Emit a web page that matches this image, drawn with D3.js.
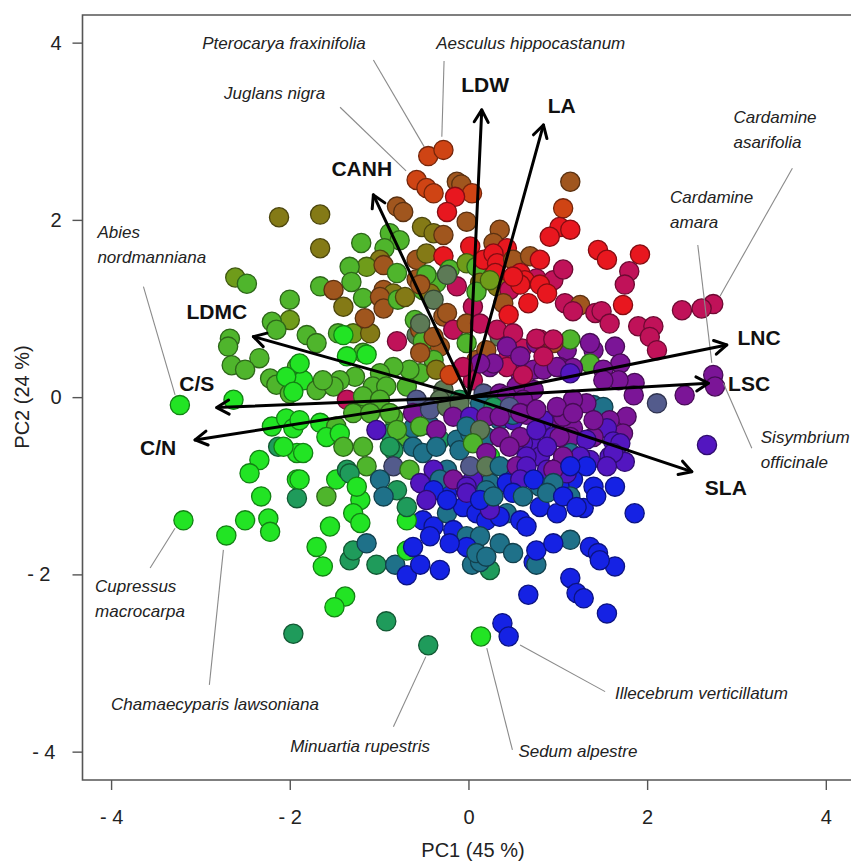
<!DOCTYPE html>
<html>
<head>
<meta charset="utf-8">
<script src="https://cdn.jsdelivr.net/npm/d3@7"></script>
<style>
  html, body { margin: 0; padding: 0; background: #fff; }
  svg { display: block; font-family: "Liberation Sans", Arial, sans-serif; }
</style>
</head>
<body>
<svg id="chart" width="851" height="863"></svg>
<script>
// PCA biplot of leaf traits: species scores on PC1/PC2 with trait loadings.

// Axis ticks
const xTicks = [-4, -2, 0, 2, 4];
const yTicks = [-4, -2, 0, 2, 4];

// Trait loadings (arrow tips on the PC1/PC2 plane)
const traitNames = ["LDW", "LA", "CANH", "LDMC", "C/S", "C/N", "LNC", "LSC", "SLA"];
const traitPC1 = [0.149, 0.839, -1.064, -2.407, -2.817, -3.060, 2.892, 2.686, 2.500];
const traitPC2 = [3.241, 3.071, 2.282, 0.683, -0.118, -0.483, 0.589, 0.157, -0.841];

// Species scores [PC1, PC2, trait-syndrome group]
const upperScores = [
  [-0.45,2.72,"o"],[-0.28,2.79,"o"],[-0.58,2.45,"o"],[-0.47,2.36,"o"],[-0.39,2.30,"o"],
  [-0.13,2.43,"w"],[-0.08,2.40,"w"],[0.04,2.30,"o"],[-0.15,2.26,"r"],[-0.24,2.09,"r"],
  [-0.80,2.15,"w"],[-0.73,2.09,"w"],[-1.66,2.06,"v"],[-2.12,2.03,"v"],[-1.66,1.68,"v"],
  [-1.20,1.74,"g"],[-0.52,1.92,"v"],[-0.39,1.85,"v"],[-0.28,1.83,"w"],[-0.02,1.98,"w"],
  [0.35,1.89,"w"],[0.02,1.70,"r"],[0.28,1.74,"w"],[0.43,1.68,"r"],[-0.88,1.85,"g"],
  [-0.77,1.77,"g"],[-0.94,1.68,"g"],[-0.99,1.55,"v"],[-1.14,1.47,"y"],[-1.33,1.47,"g"],
  [-1.31,1.30,"g"],[-0.58,1.55,"w"],[-0.47,1.62,"v"],[-0.28,1.59,"r"],[-0.21,1.44,"g"],
  [-0.02,1.51,"y"],[0.09,1.47,"g"],[0.17,1.55,"r"],[0.28,1.62,"r"],[0.32,1.51,"r"],
  [0.50,1.55,"w"],[0.69,1.59,"w"],[0.80,1.55,"r"],[0.58,1.40,"r"],[0.76,1.34,"c"],
  [0.63,1.32,"r"],[0.95,1.32,"c"],[1.06,1.44,"c"],[1.14,2.43,"w"],[1.06,2.13,"o"],
  [1.02,1.92,"r"],[1.14,1.89,"r"],[0.91,1.81,"r"],[-1.66,1.25,"g"],[-1.51,1.21,"w"],
  [-2.00,1.10,"g"],[-0.58,1.33,"w"],[-0.51,1.21,"g"],[-0.95,1.21,"w"],[-0.84,1.17,"v"],
  [-0.36,1.29,"g"],[0.13,1.29,"v"],[0.32,1.25,"v"],[-0.13,1.25,"c"],[0.46,1.21,"c"],
  [-2.61,1.35,"y"],[-2.48,1.28,"g"],[1.45,1.66,"r"],[1.55,1.55,"r"],[1.92,1.61,"r"],
  [1.80,1.42,"c"],[1.75,1.27,"c"],[-1.18,1.12,"g"],[-0.99,1.13,"w"],[-0.43,1.17,"v"],
  [0.58,1.27,"r"],[0.80,1.27,"r"],[0.88,1.17,"r"]
];

const rightScores = [
  [2.74,1.05,"c"],[2.61,1.00,"c"],[2.39,0.98,"c"],[1.73,1.04,"r"],[1.08,1.06,"c"],
  [1.25,1.04,"w"],[1.42,0.95,"c"],[1.49,0.97,"c"],[1.58,0.83,"c"],[1.90,0.80,"c"],
  [2.07,0.80,"c"],[2.03,0.68,"c"],[2.11,0.53,"c"],[1.10,0.53,"p"],[1.40,0.53,"p"],
  [1.64,0.57,"p"],[1.70,0.38,"p"],[1.14,0.65,"g"],[1.36,0.38,"g"],[1.02,0.34,"p"],
  [1.17,0.33,"p"],[1.51,0.31,"p"],[1.86,0.16,"p"],[1.85,0.02,"p"],[1.68,0.19,"p"],
  [2.11,-0.07,"s"],[2.42,0.02,"p"],[2.74,0.25,"p"],[2.76,0.12,"p"],[1.40,-0.09,"t"],
  [1.51,-0.11,"t"],[1.32,-0.07,"p"],[1.77,-0.22,"p"],[1.58,-0.26,"p"],[1.73,-0.41,"p"],
  [1.55,-0.35,"u"],[1.02,-0.26,"p"],[1.17,-0.35,"p"],[1.14,-0.45,"p"],[1.40,-0.45,"p"],
  [1.62,-0.50,"u"],[2.67,-0.54,"u"],[1.36,-0.71,"u"],[1.58,-0.67,"u"],[1.75,-0.73,"u"],
  [1.14,-0.63,"t"],[1.02,-0.78,"u"],[1.17,-0.93,"b"],[1.40,-1.01,"b"],[1.64,-1.01,"b"],
  [1.02,-1.01,"b"],[1.29,-1.25,"b"],[1.86,-1.31,"b"],[1.17,0.97,"c"]
];

const lowerScores = [
  [1.14,-1.61,"t"],[1.36,-1.69,"b"],[1.45,-1.76,"b"],[1.64,-1.91,"b"],[1.14,-2.04,"b"],
  [1.47,-1.84,"b"],[1.21,-2.21,"b"],[1.29,-2.27,"b"],[1.55,-2.44,"b"],[-1.63,-1.91,"G"],
  [-1.33,-1.84,"e"],[-1.03,-1.89,"e"],[-0.82,-1.89,"t"],[-0.69,-2.01,"b"],[-0.54,-1.89,"b"],
  [-0.32,-1.95,"b"],[0.04,-1.89,"t"],[0.24,-1.95,"e"],[0.13,-1.86,"t"],[0.73,-1.86,"b"],
  [0.76,-1.89,"t"],[-1.38,-2.25,"G"],[-1.50,-2.37,"G"],[-0.92,-2.53,"e"],[-1.96,-2.67,"e"],
  [-0.45,-2.80,"e"],[0.14,-2.70,"G"],[0.38,-2.55,"b"],[0.45,-2.70,"b"],[0.67,-2.23,"b"],
  [-0.51,-1.39,"b"],[-0.39,-1.46,"b"],[-0.24,-1.31,"t"],[-0.06,-1.24,"b"],[0.09,-1.31,"b"],
  [0.20,-1.39,"b"],[0.43,-1.31,"t"],[0.58,-1.39,"b"],[0.65,-1.46,"b"],[0.80,-1.24,"b"],
  [0.99,-1.31,"b"],[-0.17,-1.50,"b"],[-0.02,-1.57,"t"],[0.13,-1.57,"t"],[0.35,-1.65,"t"],
  [-1.29,-1.73,"e"],[-1.14,-1.65,"t"],[-0.69,-1.73,"G"],[-0.62,-1.69,"b"],[-0.43,-1.57,"b"],
  [-0.02,-1.69,"b"],[0.09,-1.76,"t"],[0.20,-1.80,"t"],[0.50,-1.76,"t"],[0.76,-1.73,"b"],
  [0.95,-1.65,"b"]
];

const leftScores = [
  [-2.00,0.87,"y"],[-2.20,0.85,"g"],[-2.15,0.76,"g"],[-2.67,0.66,"g"],[-2.69,0.57,"g"],
  [-2.34,0.44,"g"],[-2.65,0.36,"g"],[-2.50,0.31,"g"],[-2.22,0.21,"g"],[-2.15,0.14,"g"],
  [-2.00,0.04,"g"],[-1.92,0.34,"g"],[-3.23,-0.09,"G"],[-2.63,-0.03,"G"],[-2.20,-0.33,"G"],
  [-2.04,-0.24,"G"],[-1.96,-0.35,"G"],[-2.13,-0.56,"e"],[-2.34,-0.71,"G"],[-2.45,-0.86,"G"],
  [-1.92,-0.63,"G"],[-1.92,-0.93,"G"],[-1.92,-1.14,"e"],[-2.32,-1.12,"G"],[-3.19,-1.39,"G"],
  [-2.71,-1.56,"G"],[-2.50,-1.39,"G"],[-2.24,-1.37,"G"],[-2.22,-1.52,"G"],[-1.81,0.70,"g"],
  [-1.70,0.61,"g"],[-1.46,0.72,"g"],[-1.29,0.72,"y"],[-1.10,0.72,"v"],[-1.18,0.50,"g"],
  [-1.85,0.19,"G"],[-1.89,0.38,"G"],[-2.04,0.23,"G"],[-1.96,0.06,"G"],[-1.70,0.08,"g"],
  [-1.89,-0.26,"G"],[-1.66,-0.29,"G"],[-1.48,-0.33,"g"],[-2.07,-0.56,"G"],[-1.85,-0.63,"G"],
  [-1.59,-0.45,"G"],[-1.89,-0.93,"G"],[-1.48,-0.93,"G"],[-1.59,-1.12,"g"],[-1.21,-1.16,"G"],
  [-1.29,-1.31,"G"],[-1.21,-1.42,"G"],[-1.55,-1.46,"G"],[-1.70,-1.69,"G"]
];

const centralScores = [
  [-0.80,0.63,"c"],[-0.54,0.76,"w"],[-0.51,0.63,"g"],[-0.39,0.68,"w"],[-0.54,0.83,"k"],
  [-0.24,0.95,"w"],[-0.17,0.76,"c"],[-0.02,0.83,"w"],[0.13,0.83,"c"],[0.32,0.76,"c"],
  [0.50,0.72,"c"],[0.76,0.66,"c"],[0.95,0.65,"c"],[-0.02,0.61,"g"],[0.20,0.53,"w"],
  [0.43,0.57,"p"],[0.58,0.46,"p"],[0.84,0.46,"c"],[0.28,0.38,"p"],[0.13,0.38,"p"],
  [-0.06,0.34,"c"],[-0.39,0.42,"g"],[-0.54,0.50,"w"],[-0.36,0.31,"v"],[-0.21,0.25,"o"],
  [-0.66,0.31,"g"],[-0.84,0.34,"g"],[-0.99,0.27,"g"],[-1.07,0.12,"g"],[-0.92,0.12,"g"],
  [-1.27,0.23,"g"],[-1.44,0.19,"g"],[-1.51,0.12,"g"],[-1.63,0.19,"g"],[-1.36,-0.03,"c"],
  [-1.18,0.01,"g"],[-0.99,-0.03,"g"],[-1.29,-0.18,"g"],[-1.10,-0.18,"g"],[-0.88,-0.18,"g"],
  [-0.62,-0.18,"p"],[-0.43,-0.14,"s"],[-0.24,-0.11,"k"],[-0.10,-0.07,"k"],[0.13,-0.07,"t"],
  [0.28,-0.11,"e"],[0.46,-0.11,"s"],[0.58,-0.18,"p"],[0.76,-0.14,"p"],[0.99,-0.11,"p"],
  [1.17,-0.18,"p"],[-0.17,-0.22,"p"],[0.02,-0.22,"u"],[0.20,-0.22,"p"],[0.35,-0.22,"p"],
  [-1.03,-0.37,"u"],[-0.80,-0.37,"g"],[-0.54,-0.33,"g"],[-0.36,-0.37,"p"],[-0.02,-0.33,"t"],
  [0.13,-0.37,"k"],[0.35,-0.45,"p"],[0.58,-0.45,"p"],[0.76,-0.37,"u"],[1.02,-0.45,"p"],
  [-1.40,-0.56,"g"],[-1.18,-0.56,"g"],[-0.88,-0.56,"e"],[-0.62,-0.56,"t"],[-0.51,-0.63,"t"],
  [-0.36,-0.56,"t"],[-0.10,-0.60,"t"],[0.05,-0.52,"g"],[0.20,-0.63,"p"],[0.46,-0.56,"p"],
  [0.65,-0.67,"u"],[0.88,-0.56,"u"],[1.06,-0.67,"p"],[-1.36,-0.82,"e"],[-1.14,-0.78,"g"],
  [-0.84,-0.78,"s"],[-0.66,-0.82,"g"],[-0.39,-0.82,"u"],[-0.32,-0.93,"t"],[0.02,-0.78,"s"],
  [0.20,-0.78,"k"],[0.35,-0.78,"t"],[0.54,-0.78,"p"],[0.65,-0.78,"u"],[0.95,-0.82,"p"],
  [1.14,-0.78,"b"],[-1.33,-0.86,"e"],[-1.25,-1.01,"G"],[-0.99,-0.93,"t"],[-0.80,-1.05,"e"],
  [-0.54,-0.97,"u"],[-0.39,-1.05,"b"],[-0.17,-0.93,"p"],[-0.02,-1.01,"u"],[0.20,-1.05,"t"],
  [0.43,-0.97,"b"],[0.58,-0.93,"u"],[0.73,-0.93,"b"],[0.95,-0.97,"t"],[-0.95,-1.12,"t"],
  [-0.69,-1.24,"e"],[-0.47,-1.16,"u"],[-0.24,-1.16,"b"],[-0.02,-1.08,"u"],[0.13,-1.16,"b"],
  [0.28,-1.12,"t"],[0.50,-1.08,"b"],[0.61,-1.12,"t"],[0.88,-1.08,"t"],[1.06,-1.12,"b"],
  [1.21,-1.24,"b"]
];

// Densely packed scores near the origin
const coreScores = [
  [-0.95,1.49,"w"],[-0.80,1.40,"g"],[-0.47,1.38,"g"],[-0.24,1.38,"k"],[0.30,1.40,"r"],
  [0.50,1.36,"r"],[-1.40,1.02,"v"],[-0.95,1.00,"w"],[-1.16,0.89,"w"],[-1.40,0.70,"G"],
  [-1.14,0.48,"G"],[-0.79,1.10,"g"],[-0.71,1.13,"v"],[-0.54,1.27,"w"],[-0.39,1.10,"k"],
  [-0.60,0.87,"g"],[-0.28,0.91,"w"],[0.05,1.02,"c"],[0.09,1.19,"g"],[0.24,1.32,"y"],
  [0.39,1.06,"w"],[0.45,0.93,"r"],[0.67,1.06,"r"],[-0.32,0.57,"w"],[-0.58,0.70,"k"],
  [0.60,0.55,"c"],[0.76,0.61,"p"],[0.09,0.42,"w"],[0.24,0.34,"p"],[0.43,0.42,"c"],
  [0.58,0.27,"p"],[0.73,0.31,"p"],[-1.36,0.46,"G"],[-0.54,0.27,"g"],[-0.28,0.08,"k"],
  [0.05,0.19,"c"],[-0.69,0.12,"g"],[-0.58,-0.03,"s"],[-0.32,-0.03,"k"],[-0.10,-0.03,"e"],
  [0.17,0.04,"s"],[0.35,0.04,"p"],[0.54,0.12,"p"],[0.73,0.08,"p"],[0.35,-0.26,"t"],
  [0.50,-0.26,"u"],[-1.21,-0.08,"g"],[-0.84,-0.23,"g"],[-0.88,-0.41,"e"],[-0.69,-0.45,"g"],
  [-0.32,-0.48,"e"],[0.20,-0.45,"t"],[-0.84,-0.60,"e"],[0.35,0.68,"k"],[0.80,0.65,"c"],
  [0.95,0.61,"w"],[1.36,0.61,"p"],[0.43,0.34,"c"],[0.61,0.25,"c"],[0.84,0.31,"p"],
  [0.99,0.34,"p"],[1.14,0.27,"u"],[1.51,0.19,"p"],[0.43,0.01,"p"],[0.61,-0.03,"p"],
  [1.17,-0.03,"p"],[0.50,-0.20,"t"],[0.65,-0.20,"p"],[0.84,-0.26,"u"],[1.06,-0.22,"p"],
  [1.40,-0.26,"p"],[0.73,-0.56,"u"],[0.95,-0.45,"u"],[1.32,-0.48,"u"],[1.70,-0.52,"u"],
  [0.24,-0.67,"G"],[0.80,-0.67,"u"],[1.25,-0.67,"u"],[1.62,-0.63,"u"],[0.46,-0.82,"b"],
  [0.65,-0.86,"t"],[0.88,-0.82,"u"],[1.10,-0.86,"u"],[1.32,-0.78,"b"],[1.55,-0.78,"u"],
  [0.24,-0.97,"t"],[0.50,-1.01,"b"],[0.80,-1.01,"t"],[1.14,-1.12,"t"],[1.43,-1.12,"b"],
  [0.35,-1.35,"b"],[-1.44,-0.41,"G"],[-0.62,-0.35,"t"],[-0.43,-0.32,"t"],[-0.13,-0.48,"t"],
  [0.02,-0.41,"t"],[0.61,-0.52,"u"],[-0.24,-0.82,"t"],[0.05,-0.93,"u"],[-0.47,-1.01,"t"],
  [-0.24,-1.08,"b"],[-0.69,-1.39,"G"],[0.24,-1.27,"u"],[-0.21,-1.65,"b"]
];

// Labelled species: name lines, label anchor, leader line from/to (data units)
const speciesNotes = [
  { lines: ["Pterocarya fraxinifolia"], at: [-2.98, 4.00], from: [-1.064, 3.805], to: [-0.496, 2.827] },
  { lines: ["Aesculus hippocastanum"], at: [-0.36, 4.00], from: [-0.273, 3.793], to: [-0.298, 2.939] },
  { lines: ["Juglans nigra"], at: [-2.735, 3.432], from: [-1.437, 3.271], to: [-0.698, 2.552] },
  { lines: ["Cardamine", "asarifolia"], at: [2.966, 3.165], from: [3.626, 2.583], to: [2.817, 1.142] },
  { lines: ["Cardamine", "amara"], at: [2.257, 2.262], from: [2.567, 1.717], to: [2.724, 0.386] },
  { lines: ["Abies", "nordmanniana"], at: [-4.153, 1.864], from: [-3.638, 1.247], to: [-3.284, 0.025] },
  { lines: ["Sisymbrium", "officinale"], at: [3.272, -0.446], from: [3.172, -0.577], to: [2.854, 0.157] },
  { lines: ["Cupressus", "macrocarpa"], at: [-4.179, -2.130], from: [-3.563, -1.927], to: [-3.284, -1.479] },
  { lines: ["Chamaecyparis lawsoniana"], at: [-4.0, -3.462], from: [-2.90, -3.247], to: [-2.743, -1.724] },
  { lines: ["Minuartia rupestris"], at: [-1.996, -3.932], from: [-0.84, -3.718], to: [-0.477, -2.928] },
  { lines: ["Sedum alpestre"], at: [0.559, -3.989], from: [0.492, -3.981], to: [0.205, -2.833] },
  { lines: ["Illecebrum verticillatum"], at: [1.641, -3.341], from: [1.530, -3.323], to: [0.578, -2.796] }
];

// Trait label placement (data units)
const traitLabelAt = {
  "LDW": [0.186, 3.523], "LA": [1.045, 3.297], "CANH": [-1.194, 2.586],
  "LDMC": [-2.817, 0.965], "C/S": [-3.041, 0.160], "C/N": [-3.474, -0.573],
  "LNC": [3.253, 0.671], "LSC": [3.141, 0.160], "SLA": [2.881, -1.017]
};

const groupCodes = ["G","g","y","v","w","o","r","c","p","u","b","t","e","s","k"];
const groupColours = ["#22e424","#4fb52c","#6f9c1a","#847a16","#a0561e","#cf4414","#e8171f",
  "#c01259","#7b1597","#5316c0","#1522e4","#1f7189","#1f9b5b","#535b8c","#5d7a56"];
const colour = d3.scaleOrdinal().domain(groupCodes).range(groupColours);

const svg = d3.select("#chart");
const plotLeft = 82.5, plotTop = 15, plotBottom = 780;
const x = d3.scaleLinear().domain([-4.32, 4.32]).range([plotLeft, plotLeft + 8.64 * 89.34]);
const y = d3.scaleLinear().domain([-4.32, 4.32]).range([plotBottom, plotBottom - 8.64 * 88.625]);

const scores = [...upperScores, ...rightScores, ...lowerScores, ...leftScores, ...coreScores, ...centralScores];

// Points
svg.append("g").selectAll("circle").data(scores).join("circle")
  .attr("cx", d => x(d[0])).attr("cy", d => y(d[1])).attr("r", 9.6)
  .attr("fill", d => colour(d[2]))
  .attr("stroke", d => d3.color(colour(d[2])).darker(1.6))
  .attr("stroke-width", 1.3);

// Leader lines and species names
const notes = svg.append("g");
speciesNotes.forEach(n => {
  notes.append("line")
    .attr("x1", x(n.from[0])).attr("y1", y(n.from[1]))
    .attr("x2", x(n.to[0])).attr("y2", y(n.to[1]))
    .attr("stroke", "#8a8a8a").attr("stroke-width", 1.1);
  const t = notes.append("text")
    .attr("font-size", 17).attr("font-style", "italic").attr("fill", "#222");
  n.lines.forEach((s, i) => t.append("tspan")
    .attr("x", x(n.at[0])).attr("y", y(n.at[1])).attr("dy", (i * 1.48 + 0.35) + "em").text(s));
});

// Loading arrows
const arrows = svg.append("g").attr("stroke", "#000").attr("stroke-width", 3)
  .attr("stroke-linecap", "round").attr("fill", "none");
traitNames.forEach((name, i) => {
  const x0 = x(0), y0 = y(0), x1 = x(traitPC1[i]), y1 = y(traitPC2[i]);
  arrows.append("line").attr("x1", x0).attr("y1", y0).attr("x2", x1).attr("y2", y1);
  const ang = Math.atan2(y1 - y0, x1 - x0), len = 14, spread = Math.PI / 6;
  const head = [ang + Math.PI - spread, ang + Math.PI + spread].map(a => [x1 + len * Math.cos(a), y1 + len * Math.sin(a)]);
  arrows.append("path").attr("stroke-linejoin", "round")
    .attr("d", `M${head[0][0]},${head[0][1]}L${x1},${y1}L${head[1][0]},${head[1][1]}`);
  svg.append("text")
    .attr("x", x(traitLabelAt[name][0])).attr("y", y(traitLabelAt[name][1]))
    .attr("dy", "0.36em").attr("text-anchor", "middle")
    .attr("font-size", 21).attr("font-weight", "bold").attr("fill", "#111").text(name);
});

// Frame
svg.append("path")
  .attr("d", `M${x.range()[1] + 5},${plotTop}H${plotLeft}V${plotBottom}H${x.range()[1] + 5}`)
  .attr("fill", "none").attr("stroke", "#555").attr("stroke-width", 1.6);

const fmt = d => d < 0 ? "- " + Math.abs(d) : String(d);

// Axes
const xAxis = svg.append("g").attr("transform", `translate(0,${plotBottom})`)
  .call(d3.axisBottom(x).tickValues(xTicks).tickFormat(fmt).tickSize(10).tickPadding(20));
const yAxis = svg.append("g").attr("transform", `translate(${plotLeft},0)`)
  .call(d3.axisLeft(y).tickValues(yTicks).tickFormat(fmt).tickSize(10).tickPadding(11));
[xAxis, yAxis].forEach(a => {
  a.select(".domain").remove();
  a.selectAll(".tick line").attr("stroke", "#555").attr("stroke-width", 1.4);
  a.selectAll(".tick text").attr("font-size", 20).attr("fill", "#222")
    .attr("font-family", "'Liberation Sans', Arial, sans-serif");
});
// Negative y labels sit a little further out from the axis
yAxis.selectAll(".tick text").filter(d => d < 0).attr("x", d => d === -2 ? -32 : -27);

svg.append("text").attr("x", 473).attr("y", 857).attr("text-anchor", "middle")
  .attr("font-size", 20).attr("fill", "#222").text("PC1 (45 %)");
svg.append("text").attr("transform", "translate(29,397) rotate(-90)").attr("text-anchor", "middle")
  .attr("font-size", 20).attr("fill", "#222").text("PC2 (24 %)");
</script>
</body>
</html>
